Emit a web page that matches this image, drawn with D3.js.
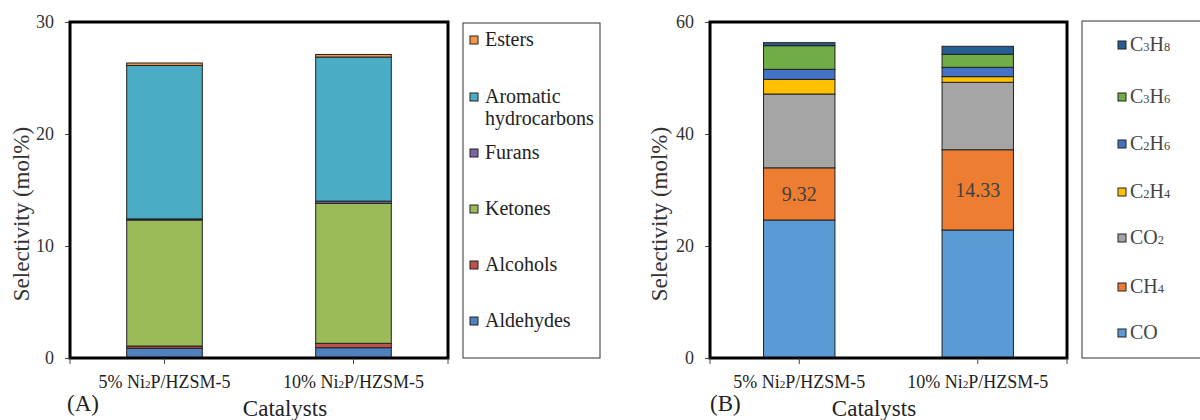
<!DOCTYPE html>
<html>
<head>
<meta charset="utf-8">
<script src="https://cdn.jsdelivr.net/npm/d3@7/dist/d3.min.js"></script>
</head>
<body style="margin:0">
<svg id="chart" width="1200" height="420"></svg>
<script>
// DATA ------------------------------------------------------------
let catalysts = ["5% Ni2P/HZSM-5", "10% Ni2P/HZSM-5"];

// panel A, liquid products (bottom to top)
let liquid_keys = ["Aldehydes", "Alcohols", "Ketones", "Furans", "Aromatic hydrocarbons", "Esters"];
let aldehydes = [0.87, 0.92];
let alcohols = [0.2, 0.39];
let ketones = [11.25, 12.5];
let furans = [0.1, 0.2];
let aromatics = [13.7, 12.86];
let esters = [0.22, 0.23];
let liquid_colors = ["#4F81BD", "#C0504D", "#9BBB59", "#8064A2", "#4BACC6", "#F79646"];

// panel B, gas products (bottom to top)
let gas_keys = ["CO", "CH4", "CO2", "C2H4", "C2H6", "C3H6", "C3H8"];
let co = [24.64, 22.86];
let ch4 = [9.32, 14.33];
let co2 = [13.18, 12.04];
let c2h4 = [2.62, 1.01];
let c2h6 = [1.79, 1.67];
let c3h6 = [4.22, 2.33];
let c3h8 = [0.54, 1.42];
let gas_colors = ["#5B9BD5", "#ED7D31", "#A5A5A5", "#FFC000", "#4472C4", "#70AD47", "#255E91"];
let gas_labels = ["9.32", "14.33"];

let y_ticks_a = [0, 10, 20, 30];
let y_ticks_b = [0, 20, 40, 60];

const FONT = '"Liberation Serif"';
let svg = d3.select("#chart");

// write a label with subscript digits (chemical formulas)
function subText(sel, str, size) {
  let parts = str.match(/(\d+|[^\d]+)/g);
  parts.forEach((p, i) => {
    let isNum = /^\d+$/.test(p);
    // a leading number like "5%" / "10%" is not a subscript
    let isSub = isNum && i > 0 && /[A-Za-z]$/.test(parts[i - 1]);
    sel.append("tspan")
      .attr("font-size", isSub ? size * 0.62 : size)
      .style("font-family", FONT)
      .text(p);
  });
}

function drawPanel(opts) {
  let g = svg.append("g");
  let x = d3.scaleBand().domain(catalysts).range([opts.left, opts.right]).paddingInner(0.6).paddingOuter(0.3);
  let y = d3.scaleLinear().domain([0, opts.ymax]).range([opts.bottom, opts.top]);

  let rows = catalysts.map((c, i) => {
    let r = { cat: c };
    opts.keys.forEach((k, j) => (r[k] = opts.series[j][i]));
    return r;
  });
  let stacked = d3.stack().keys(opts.keys)(rows);

  // bars
  g.selectAll("g.layer")
    .data(stacked)
    .enter()
    .append("g")
    .attr("fill", (d, i) => opts.colors[i])
    .selectAll("rect")
    .data((d) => d)
    .enter()
    .append("rect")
    .attr("x", (d) => x(d.data.cat))
    .attr("width", x.bandwidth())
    .attr("y", (d) => y(d[1]))
    .attr("height", (d) => y(d[0]) - y(d[1]))
    .attr("stroke", "#222")
    .attr("stroke-width", 1);

  // data labels
  if (opts.labelLayer !== undefined) {
    let layer = stacked[opts.labelLayer];
    g.selectAll("text.dl")
      .data(layer)
      .enter()
      .append("text")
      .attr("x", (d) => x(d.data.cat) + x.bandwidth() / 2)
      .attr("y", (d) => (y(d[0]) + y(d[1])) / 2 + 7)
      .attr("text-anchor", "middle")
      .attr("font-size", 20)
      .attr("fill", "#404040")
      .style("font-family", FONT)
      .text((d, i) => opts.labels[i]);
  }

  // frame
  g.append("rect")
    .attr("x", opts.left)
    .attr("y", opts.top)
    .attr("width", opts.right - opts.left)
    .attr("height", opts.bottom - opts.top)
    .attr("fill", "none")
    .attr("stroke", "#000")
    .attr("stroke-width", 3);

  // y axis ticks
  let yAxis = g.append("g")
    .attr("transform", `translate(${opts.left - 1},0)`)
    .call(d3.axisLeft(y).tickValues(opts.yticks).tickSize(4).tickPadding(11));
  yAxis.attr("font-family", null);
  yAxis.select(".domain").remove();
  yAxis.selectAll("line").attr("stroke", "#444");
  yAxis.selectAll("text")
    .attr("font-size", 18)
    .attr("fill", "#333")
    .style("font-family", FONT);

  // x ticks (category centers + plot edges)
  let xt = [opts.left, ...catalysts.map((c) => x(c) + x.bandwidth() / 2), opts.right];
  g.selectAll("line.xt")
    .data(xt)
    .enter()
    .append("line")
    .attr("x1", (d) => d)
    .attr("x2", (d) => d)
    .attr("y1", opts.bottom)
    .attr("y2", opts.bottom + 6)
    .attr("stroke", "#444");

  // category labels
  catalysts.forEach((c) => {
    let t = g.append("text")
      .attr("x", x(c) + x.bandwidth() / 2)
      .attr("y", 388)
      .attr("text-anchor", "middle")
      .attr("fill", "#222")
      .attr("font-size", 18)
      .style("font-family", FONT);
    subText(t, c, 18);
  });

  // axis titles
  g.append("text")
    .attr("transform", `translate(${opts.ytitleX},${(opts.top + opts.bottom) / 2 + 24}) rotate(-90)`)
    .attr("text-anchor", "middle")
    .attr("font-size", 23)
    .attr("fill", "#333")
    .style("font-family", FONT)
    .text("Selectivity (mol%)");
  g.append("text")
    .attr("x", opts.xtitleX)
    .attr("y", 416)
    .attr("text-anchor", "middle")
    .attr("font-size", 23)
    .attr("fill", "#222")
    .style("font-family", FONT)
    .text("Catalysts");
  g.append("text")
    .attr("x", opts.panelX)
    .attr("y", 411)
    .attr("font-size", 23)
    .attr("fill", "#222")
    .style("font-family", FONT)
    .text(opts.panelName);

  // legend
  let lg = g.append("g");
  lg.append("rect")
    .attr("x", opts.legend.x)
    .attr("y", opts.legend.y)
    .attr("width", opts.legend.w)
    .attr("height", opts.legend.h)
    .attr("fill", "#fff")
    .attr("stroke", "#333")
    .attr("stroke-width", 1);
  let items = opts.keys.slice().reverse();
  let cols = opts.colors.slice().reverse();
  items.forEach((k, i) => {
    let ly = opts.legend.itemY[i];
    lg.append("rect")
      .attr("x", opts.legend.sx)
      .attr("y", ly - 4)
      .attr("width", 8)
      .attr("height", 8)
      .attr("fill", cols[i])
      .attr("stroke", "#222")
      .attr("stroke-width", 1);
    let t = lg.append("text")
      .attr("x", opts.legend.tx)
      .attr("y", ly + 6)
      .attr("font-size", opts.legend.fs)
      .attr("fill", opts.legend.color)
      .style("font-family", FONT);
    if (k === "Aromatic hydrocarbons") {
      t.append("tspan").style("font-family", FONT).text("Aromatic");
      t.append("tspan").style("font-family", FONT).attr("x", opts.legend.tx).attr("dy", 22).text("hydrocarbons");
    } else {
      subText(t, k, opts.legend.fs);
    }
  });
}

drawPanel({
  left: 70, right: 448, top: 22, bottom: 358, ymax: 30,
  keys: liquid_keys,
  series: [aldehydes, alcohols, ketones, furans, aromatics, esters],
  colors: liquid_colors,
  yticks: y_ticks_a,
  ytitleX: 29, xtitleX: 285, panelX: 67, panelName: "(A)",
  legend: {
    x: 463, y: 23, w: 137, h: 335, sx: 470, tx: 485, fs: 20, color: "#222",
    itemY: [40, 97, 153, 209, 265, 321],
  },
});

drawPanel({
  left: 710, right: 1067, top: 22, bottom: 358, ymax: 60,
  keys: gas_keys,
  series: [co, ch4, co2, c2h4, c2h6, c3h6, c3h8],
  colors: gas_colors,
  yticks: y_ticks_b,
  labelLayer: 1, labels: gas_labels,
  ytitleX: 667, xtitleX: 874, panelX: 710, panelName: "(B)",
  legend: {
    x: 1082, y: 21, w: 130, h: 337, sx: 1118, tx: 1130, fs: 20, color: "#444",
    itemY: [45, 97, 144, 192, 238, 287, 333],
  },
});
</script>
</body>
</html>
